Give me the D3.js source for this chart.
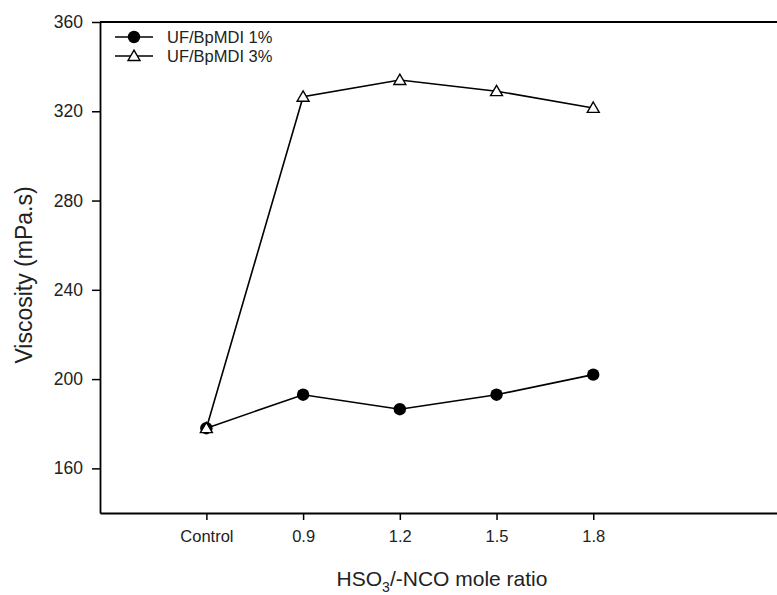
<!DOCTYPE html>
<html><head><meta charset="utf-8">
<script src="https://cdn.jsdelivr.net/npm/d3@7/dist/d3.min.js"></script>
<style>body{margin:0;background:#fff}svg{display:block}svg text{font-family:"Liberation Sans",Arial,sans-serif}</style>
</head><body>
<svg id="c" width="777" height="595"></svg>
<script>
const categories = ["Control", "0.9", "1.2", "1.5", "1.8"];
const series1Name = "UF/BpMDI 1%";
const series3Name = "UF/BpMDI 3%";
const series1 = [178, 193, 186.5, 193, 202];
const series3 = [178, 326.5, 334, 329, 321.5];
const yTicks = [160, 200, 240, 280, 320, 360];

const svg = d3.select("#c");
const L = 100, R = 777, T = 22, B = 513;
const x = d3.scaleLinear().domain([-1.1, 5.9]).range([L, R]);
const y = d3.scaleLinear().domain([140, 360]).range([B, T]);

// frame top
svg.append("line").attr("x1", L).attr("x2", R).attr("y1", T).attr("y2", T)
  .attr("stroke", "#000").attr("stroke-width", 1.8);

const xa = svg.append("g").attr("transform", `translate(0,${B})`)
  .call(d3.axisBottom(x).tickValues(d3.range(categories.length)).tickFormat(i => categories[i])
    .tickSizeInner(7).tickSizeOuter(0).tickPadding(10));
const ya = svg.append("g").attr("transform", `translate(${L},0)`)
  .call(d3.axisLeft(y).tickValues(yTicks).tickSizeInner(8).tickSizeOuter(0).tickPadding(9));
[xa, ya].forEach(g => {
  g.attr("font-family", null);
  g.select(".domain").attr("stroke-width", 1.8);
  g.selectAll(".tick line").attr("stroke-width", 1.5);
  g.selectAll("text").attr("fill", "#222");
});
xa.selectAll("text").attr("font-size", 16.5);
ya.selectAll("text").attr("font-size", 17.5);

const line = d3.line().x((d, i) => x(i)).y(d => y(d));
svg.append("path").datum(series1).attr("d", line).attr("fill", "none").attr("stroke", "#000").attr("stroke-width", 1.6);
svg.append("path").datum(series3).attr("d", line).attr("fill", "none").attr("stroke", "#000").attr("stroke-width", 1.6);

svg.selectAll("circle.s1").data(series1).join("circle").attr("class", "s1")
  .attr("cx", (d, i) => x(i)).attr("cy", d => y(d)).attr("r", 6.2).attr("fill", "#000");
const tri = d3.symbol().type(d3.symbolTriangle).size(62);
svg.selectAll("path.s3").data(series3).join("path").attr("class", "s3")
  .attr("d", tri).attr("transform", (d, i) => `translate(${x(i)},${y(d) + 1})`)
  .attr("fill", "#fff").attr("stroke", "#000").attr("stroke-width", 1.4);

// legend
const leg = [{name: series1Name, t: "c", yy: 37}, {name: series3Name, t: "t", yy: 56}];
leg.forEach(l => {
  const g = svg.append("g");
  g.append("line").attr("x1", 115).attr("x2", 153).attr("y1", l.yy).attr("y2", l.yy)
    .attr("stroke", "#000").attr("stroke-width", 1.6);
  if (l.t === "c") g.append("circle").attr("cx", 134).attr("cy", l.yy).attr("r", 6.2).attr("fill", "#000");
  else g.append("path").attr("d", tri).attr("transform", `translate(134,${l.yy + 1})`)
    .attr("fill", "#fff").attr("stroke", "#000").attr("stroke-width", 1.4);
  g.append("text").attr("x", 167).attr("y", l.yy + 5.5).attr("font-size", 16.5).attr("fill", "#222").text(l.name);
});

// axis titles
svg.append("text").attr("transform", "translate(32,275) rotate(-90)").attr("text-anchor", "middle")
  .attr("font-size", 23).attr("fill", "#222").text("Viscosity (mPa.s)");
const xt = svg.append("text").attr("x", 442).attr("y", 586).attr("text-anchor", "middle")
  .attr("font-size", 21).attr("fill", "#222");
xt.append("tspan").text("HSO");
xt.append("tspan").attr("font-size", 14).attr("dy", 6).text("3");
xt.append("tspan").attr("dy", -6).text("/-NCO mole ratio");
</script>
</body></html>
